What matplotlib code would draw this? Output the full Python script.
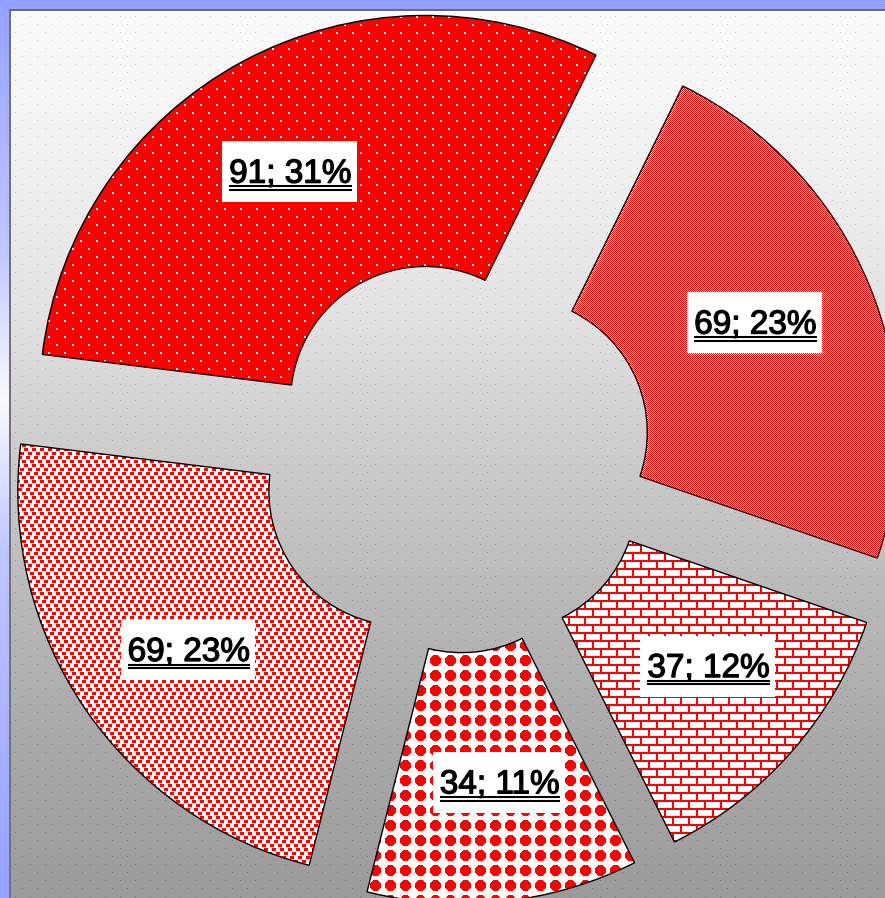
import numpy as np
import matplotlib
matplotlib.use("Agg")
import matplotlib.pyplot as plt
import matplotlib.patheffects as pe
from matplotlib.patches import Rectangle

# slice values and the percentages printed on the labels (clockwise from the left)
values = [91, 69, 37, 34, 69]
percents = [31, 23, 12, 11, 23]
labels = ["%d; %d%%" % (v, p) for v, p in zip(values, percents)]

W, H = 885, 898
CENTER = (455, 442)      # pie centre in pixel units (y up)
RADIUS = 386
HOLE = 135
EXPLODE = 62

yy, xx = np.mgrid[0:H, 0:W]


def solid(mask, on, off):
    img = np.empty((H, W, 3))
    img[:] = off
    img[mask] = on
    return img


RED = (1.0, 0.0, 0.0)
WHITE = (1.0, 1.0, 1.0)

# bitmap-like fill patterns, one per slice
stag = 8 * ((yy // 8) % 2)
tex_dots = solid((yy % 8 < 2) & (((xx + stag) % 16) < 2), WHITE, RED)
tex_fine = solid((xx + yy) % 2 == 0, RED, WHITE)
tex_bricks = solid((yy % 8 < 2) | (((xx + stag) % 16) < 2), RED, WHITE)
dx = np.abs(((xx + 7) % 15) - 7)
dy = np.abs(((yy + 7) % 15) - 7)
tex_diam = solid((dx + dy <= 7) & (np.maximum(dx, dy) <= 5), RED, WHITE)
ty, tx = yy % 16, xx % 16
conf = np.zeros((H, W), bool)
for r0, c0 in [(0, 0), (0, 8), (4, 4), (4, 12), (8, 2), (8, 10), (12, 6), (12, 14)]:
    conf |= (ty >= r0) & (ty < r0 + 3) & (((tx - c0) % 16) < 4)
tex_conf = solid(conf, RED, WHITE)
textures = [tex_dots, tex_fine, tex_bricks, tex_diam, tex_conf]

# grey gradient background with sparse dots and the blue frame strips
g = np.interp(yy, [0, 100, 300, 450, 600, 750, 898],
              [250, 246, 228, 205, 185, 168, 155]) / 255.0
dotmask = (yy % 8 == 0) & (((xx + stag) % 15) == 0)
g = np.where(dotmask, g - 0.16, g)
bg = np.dstack([g, g, g])
blue = np.array([0.55, 0.6, 1.0])
chk = ((xx + yy) % 2)[..., None] * 0.08
top = np.zeros((H, W), bool)
top[:9, :] = True
bg[top] = (blue + chk)[top].clip(0, 1)
mix = np.interp(yy, [0, 250, 400, 550, 898], [1.0, 0.6, 0.05, 0.6, 1.0])[..., None]
leftcol = (1 - mix) * 1.0 + mix * (blue + chk)
left = np.zeros((H, W), bool)
left[9:, :9] = True
bg[left] = leftcol.clip(0, 1)[left]
bg[9:11, 9:] = 0.42
bg[9:, 9:11] = 0.45

fig = plt.figure(figsize=(W / 100, H / 100), dpi=100)
ax = fig.add_axes([0, 0, 1, 1])
ax.imshow(bg, extent=(0, W, 0, H), origin="upper", interpolation="nearest", zorder=0)

wedges, _ = ax.pie(values, explode=[EXPLODE] * len(values), radius=RADIUS,
                   center=CENTER, startangle=173, counterclock=False,
                   wedgeprops=dict(width=RADIUS - HOLE, facecolor="none",
                                   edgecolor="black", linewidth=1.0))

for w, tex in zip(wedges, textures):
    w.set_zorder(3)
    im = ax.imshow(tex, extent=(0, W, 0, H), origin="upper",
                   interpolation="nearest", zorder=2)
    im.set_clip_path(w)

ax.set_xlim(0, W)
ax.set_ylim(0, H)
ax.set_aspect("auto")
ax.axis("off")

fig.canvas.draw()
renderer = fig.canvas.get_renderer()
CAP = 23
for w, lab in zip(wedges, labels):
    mid = np.deg2rad((w.theta1 + w.theta2) / 2 + 2.0)
    cx = w.center[0] + 267 * np.cos(mid)
    cy = w.center[1] + 267 * np.sin(mid)
    base = cy - CAP / 2
    t = ax.text(cx, base, lab, ha="center", va="baseline", fontsize=24,
                family="Liberation Sans", color="black", zorder=6,
                path_effects=[pe.withStroke(linewidth=0.9, foreground="black")])
    tw = t.get_window_extent(renderer).width
    ax.add_patch(Rectangle((cx - tw / 2 - 7, cy - 31), tw + 12, 61,
                           facecolor="white", edgecolor="none", zorder=5))
    for off in (3.8, 7.4):
        ax.plot([cx - tw / 2, cx + tw / 2], [base - off] * 2, color="black",
                lw=1.5, solid_capstyle="butt", zorder=6)

fig.savefig("out.png", dpi=100)
